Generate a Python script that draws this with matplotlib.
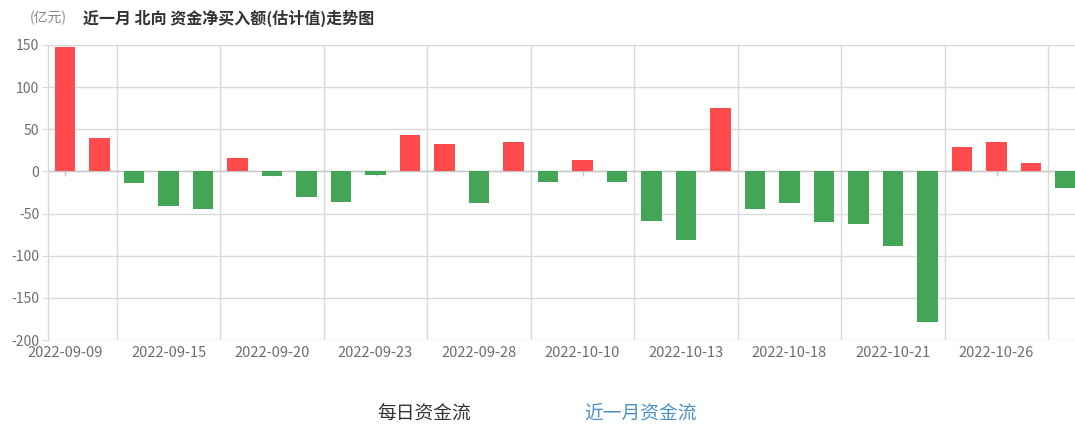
import matplotlib
matplotlib.use("Agg")
import matplotlib.pyplot as plt

plt.rcParams['font.family'] = ['Noto Sans CJK SC', 'DejaVu Sans']

dates = ["2022-09-09", "2022-09-13", "2022-09-14", "2022-09-15", "2022-09-16",
         "2022-09-19", "2022-09-20", "2022-09-21", "2022-09-22", "2022-09-23",
         "2022-09-26", "2022-09-27", "2022-09-28", "2022-09-29", "2022-09-30",
         "2022-10-10", "2022-10-11", "2022-10-12", "2022-10-13", "2022-10-14",
         "2022-10-17", "2022-10-18", "2022-10-19", "2022-10-20", "2022-10-21",
         "2022-10-24", "2022-10-25", "2022-10-26", "2022-10-27", "2022-10-28"]
values = [148, 40, -14, -41, -45,
          16, -5, -30, -36, -4.5,
          43, 33, -38, 35, -13,
          14, -12, -59, -81, 75,
          -44, -38, -60, -62, -89,
          -179, 29, 35, 10, -20]
y_ticks = [150, 100, 50, 0, -50, -100, -150, -200]

title = "近一月 北向 资金净买入额(估计值)走势图"
unit = "(亿元)"
tab_left = "每日资金流"
tab_right = "近一月资金流"

RED = "#FF4B4B"
GREEN = "#45A556"
GRID = "#D9D9D9"
TXT = "#6E6E6E"

W, H = 1075, 428
fig = plt.figure(figsize=(W / 100, H / 100), dpi=100)
left, right, top, bottom = 47.75, 1082.75, 45, 340
ax = fig.add_axes([left / W, (H - bottom) / H, (right - left) / W, (bottom - top) / H])

n = len(values)
x = list(range(n))
colors = [RED if v >= 0 else GREEN for v in values]

ax.set_xlim(-0.5, n - 0.5)
ax.set_ylim(min(y_ticks), max(y_ticks))

# grid
for yv in y_ticks:
    ax.axhline(yv, color=GRID, lw=1, zorder=0)
label_idx = list(range(0, n, 3))
for i in label_idx[1:] + [label_idx[-1] + 3]:
    ax.axvline(i - 1.5, color=GRID, lw=1, zorder=0)
ax.axhline(0, color="#C8C8C8", lw=1, zorder=1)
ax.vlines(label_idx, -5, 0, color="#C8C8C8", lw=1, zorder=1)

ax.bar(x, values, width=0.6, color=colors, zorder=2)

for s in ["top", "right", "bottom"]:
    ax.spines[s].set_visible(False)
ax.spines["left"].set_color(GRID)
ax.spines["left"].set_linewidth(1)

ax.set_yticks(y_ticks)
ax.set_yticklabels([str(v) for v in y_ticks], color=TXT, fontsize=10)
ax.set_xticks(label_idx)
ax.set_xticklabels([dates[i] for i in label_idx], color=TXT, fontsize=10.5)
ax.tick_params(axis="y", length=4, color=GRID, pad=2)
ax.tick_params(axis="x", length=0, pad=4)

fig.text(30 / W, 1 - 18 / H, unit, color="#888888", fontsize=10, va="center", ha="left")
fig.text(83 / W, 1 - 18 / H, title, color="#333333", fontsize=11.5, fontweight="bold",
         va="center", ha="left")
fig.text(424 / W, 1 - 413 / H, tab_left, color="#333333", fontsize=13.5, va="center", ha="center")
fig.text(641 / W, 1 - 413 / H, tab_right, color="#4A90C8", fontsize=13.5, va="center", ha="center")

fig.savefig("out.png", dpi=100)
